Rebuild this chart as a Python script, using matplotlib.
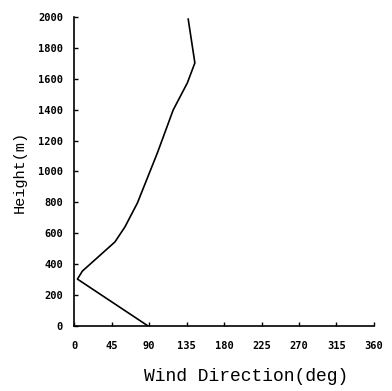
import matplotlib
matplotlib.use('Agg')
import matplotlib.pyplot as plt

# Профиль направления ветра по высоте
direction = [89, 4, 10, 49, 61, 76, 100, 119, 136, 145, 137]
height = [0, 304, 356, 544, 641, 796, 1120, 1398, 1573, 1702, 1985]

x_ticks = [0, 45, 90, 135, 180, 225, 270, 315, 360]
y_ticks = [0, 200, 400, 600, 800, 1000, 1200, 1400, 1600, 1800, 2000]

fig = plt.figure(figsize=(3.92, 3.91), dpi=100)
ax = fig.add_axes([0.189, 0.166, 0.765, 0.791])

ax.plot(direction, height, color='black', linewidth=1.2)

ax.set_xlim(0, 360)
ax.set_ylim(0, 2000)
ax.set_xticks(x_ticks)
ax.set_yticks(y_ticks)

for side in ['top', 'right']:
    ax.spines[side].set_visible(False)
for side in ['left', 'bottom']:
    ax.spines[side].set_linewidth(1.2)

ax.tick_params(direction='in', length=3, width=1, labelsize=7.5)
ax.tick_params(axis='x', pad=11)
ax.tick_params(axis='y', pad=8)
for lbl in ax.get_xticklabels() + ax.get_yticklabels():
    lbl.set_fontfamily('DejaVu Sans Mono')
    lbl.set_fontweight('bold')

ax.set_xlabel('Wind Direction(deg)', family='Liberation Mono', fontsize=13, va='center')
ax.set_ylabel('Height(m)', family='Liberation Mono', fontsize=11, va='center')
ax.xaxis.set_label_coords(0.573, -0.162)
ax.yaxis.set_label_coords(-0.18, 0.498)

plt.savefig('out.png', dpi=100)
